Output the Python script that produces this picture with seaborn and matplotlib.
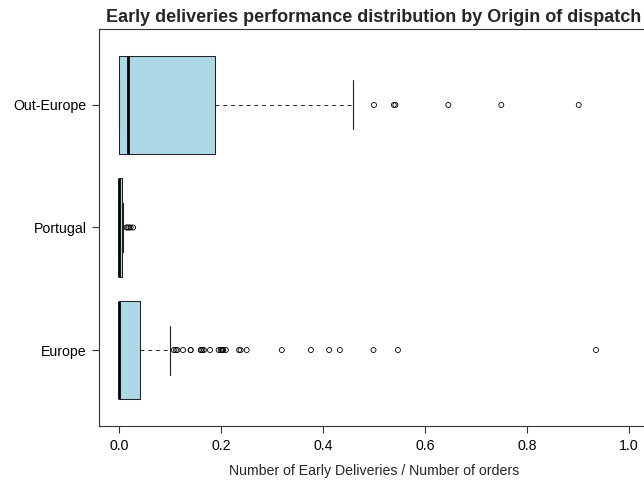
import matplotlib
matplotlib.use("Agg")
import matplotlib.pyplot as plt
import seaborn as sns
import pandas as pd

# Categories (top to bottom)
origins = ["Out-Europe", "Portugal", "Europe"]

# Box summaries: min whisker, Q1, median, Q3, max whisker
out_europe_box = [0.0, 0.0, 0.017, 0.188, 0.458]
portugal_box = [0.0, 0.0, 0.0, 0.0055, 0.0075]
europe_box = [0.0, 0.0, 0.0, 0.040, 0.099]

# Outliers
out_europe_out = [0.500, 0.539, 0.542, 0.646, 0.750, 0.902]
portugal_out = [0.014, 0.016, 0.019, 0.022, 0.027]
europe_out = [0.107, 0.111, 0.114, 0.125, 0.140, 0.140, 0.160, 0.160, 0.163,
              0.166, 0.178, 0.195, 0.199, 0.202, 0.202, 0.204, 0.209, 0.235,
              0.238, 0.250, 0.319, 0.376, 0.412, 0.433, 0.499, 0.547, 0.936]

x_ticks = [0.0, 0.2, 0.4, 0.6, 0.8, 1.0]
x_tick_labels = ["0.0", "0.2", "0.4", "0.6", "0.8", "1.0"]

title = "Early deliveries performance distribution by Origin of dispatch"
x_label = "Number of Early Deliveries / Number of orders"

box_df = pd.DataFrame({
    "origin": ["Out-Europe"] * len(out_europe_box) + ["Portugal"] * len(portugal_box)
              + ["Europe"] * len(europe_box),
    "value": out_europe_box + portugal_box + europe_box,
})
out_df = pd.DataFrame({
    "origin": ["Out-Europe"] * len(out_europe_out) + ["Portugal"] * len(portugal_out)
              + ["Europe"] * len(europe_out),
    "value": out_europe_out + portugal_out + europe_out,
})

sns.set_style("white")
plt.rcParams["font.family"] = ["Liberation Sans", "DejaVu Sans"]

fig = plt.figure(figsize=(6.44, 4.82), dpi=100)
ax = fig.add_axes([99 / 644, 1 - 426 / 482, 550 / 644, 397 / 482])

sns.boxplot(data=box_df, x="value", y="origin", order=origins, ax=ax,
            color="#ADD8E6", saturation=1, linecolor="black", linewidth=0.75,
            width=0.8, whis=10, showfliers=False,
            medianprops=dict(linewidth=2.0, color="black", solid_capstyle="butt"),
            whiskerprops=dict(linestyle=(0, (4, 4)), linewidth=0.7, color="#222222"),
            capprops=dict(linewidth=0.8, color="#222222"),
            boxprops=dict(edgecolor="#222222"))

sns.stripplot(data=out_df, x="value", y="origin", order=origins, ax=ax,
              jitter=False, size=3.6, marker="o", color="black",
              facecolor="none", edgecolor="black", linewidth=0.6)

ax.set_xlim(-0.04, 1.04)
ax.set_ylim(2.62, -0.62)
ax.set_xticks(x_ticks)
ax.set_xticklabels(x_tick_labels)
ax.set_xlabel(x_label, fontsize=10.2, labelpad=8)
ax.set_ylabel("")
ax.set_title(title, fontsize=13, fontweight="bold", pad=5)

for s in ax.spines.values():
    s.set_visible(True)
    s.set_color("#333333")
    s.set_linewidth(0.8)

ax.tick_params(axis="both", direction="out", length=5, width=0.8,
               color="#333333", labelsize=10.2, labelcolor="black", pad=4,
               bottom=True, left=True)

fig.savefig("out.png", dpi=100)
